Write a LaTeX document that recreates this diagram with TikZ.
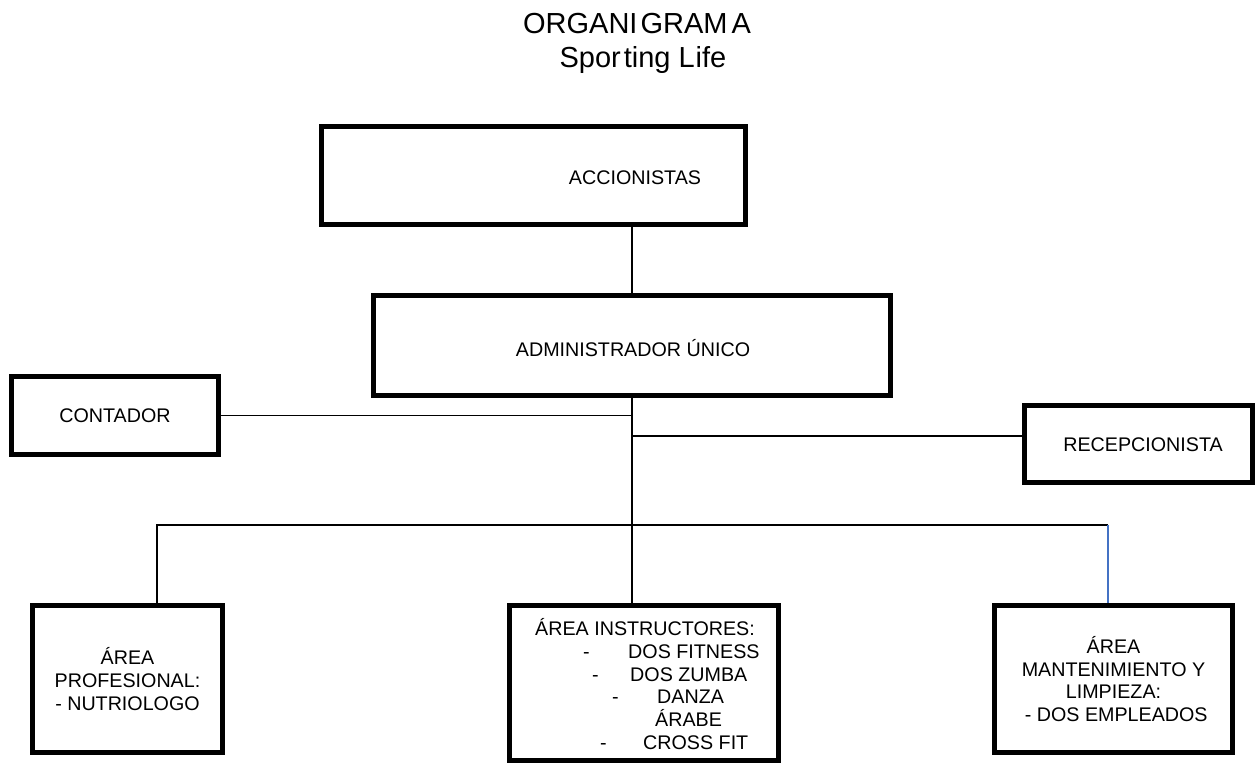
\documentclass[tikz,border=0pt]{standalone}
\usepackage{fontspec}
\setmainfont{Liberation Sans}
\newcommand\boxfont{\fontsize{19.7}{22.6}\selectfont}
\newcommand\titlefont{\fontsize{29}{33}\selectfont}
\definecolor{linkblue}{RGB}{68,114,196}
\begin{document}
\begin{tikzpicture}[x=1pt,y=-1pt,
  box/.style={draw, line width=5pt, rectangle, inner sep=0pt, align=center, font=\boxfont},
  conn/.style={line width=1.3pt},
  txt/.style={anchor=base west, inner sep=0pt, font=\boxfont},
  ctxt/.style={inner sep=0pt, font=\boxfont},
  ttl/.style={anchor=base, inner sep=0pt, font=\titlefont}]
\useasboundingbox (0,0) rectangle (1259,763);
% title
\node[ttl] (tt1) at (637,33) {ORGANI\kern3pt GRAM\kern4pt A};
\node[ttl] (tt2) at (643,67) {Spor\kern3pt ting L\kern1pt ife};
% boxes
\node[box, minimum width=424pt, minimum height=98pt] (acc) at (533.5,175.5) {};
\node[ctxt] (acct) at (635,178) {ACCIONISTAS};
\node[box, minimum width=517pt, minimum height=100pt] (adm) at (632,345.5) {};
\node[ctxt] (admt) at (633,348) {ADMINISTRADOR ÚNICO};
\node[box, minimum width=207pt, minimum height=78pt] (con) at (115,415.5) {CONTADOR};
\node[box, minimum width=228pt, minimum height=77pt] (rec) at (1138.5,444) {};
\node[ctxt] (rect) at (1143,445) {RECEPCIONISTA};
\node[box, minimum width=190pt, minimum height=147pt] (b1) at (127.5,679) {ÁREA\\PROFESIONAL:\\- NUTRIOLOGO};
\node[box, minimum width=269pt, minimum height=155pt] (b2) at (644,683) {};
\node[box, minimum width=238pt, minimum height=147pt] (b3) at (1113.5,679) {ÁREA\\MANTENIMIENTO Y\\LIMPIEZA:\\\ - DOS EMPLEADOS};
% middle box text
\node[txt] (m0) at (535,635) {ÁREA INSTRUCTORES:};
\node[txt] (d1) at (583,658) {-};
\node[txt] (t1) at (628,658) {DOS FITNESS};
\node[txt] (d2) at (592,681) {-};
\node[txt] (t2) at (630,681) {DOS ZUMBA};
\node[txt] (d3) at (612,703) {-};
\node[txt] (t3) at (657,703) {DANZA};
\node[txt] (t4) at (655,726) {ÁRABE};
\node[txt] (d5) at (600,749) {-};
\node[txt] (t5) at (643,749) {CROSS FIT};
% connector coordinates
\coordinate (jr) at (632,436);
\coordinate (bus) at (632,525);
\coordinate (bl) at (157,525);
\coordinate (br) at (1108,525);
% connectors
\draw[conn] (acc.south -| adm.north) -- (adm.north);
\draw[conn] (adm.south) -- (adm.south |- b2.north);
\draw[conn] (con.east) -- (con.east -| adm.south);
\draw[conn] (jr) -- (jr -| rec.west);
\draw[conn] (bl |- b1.north) -- (bl) -- (br);
\draw[conn, linkblue] (br) -- (br |- b3.north);
\end{tikzpicture}
\end{document}
